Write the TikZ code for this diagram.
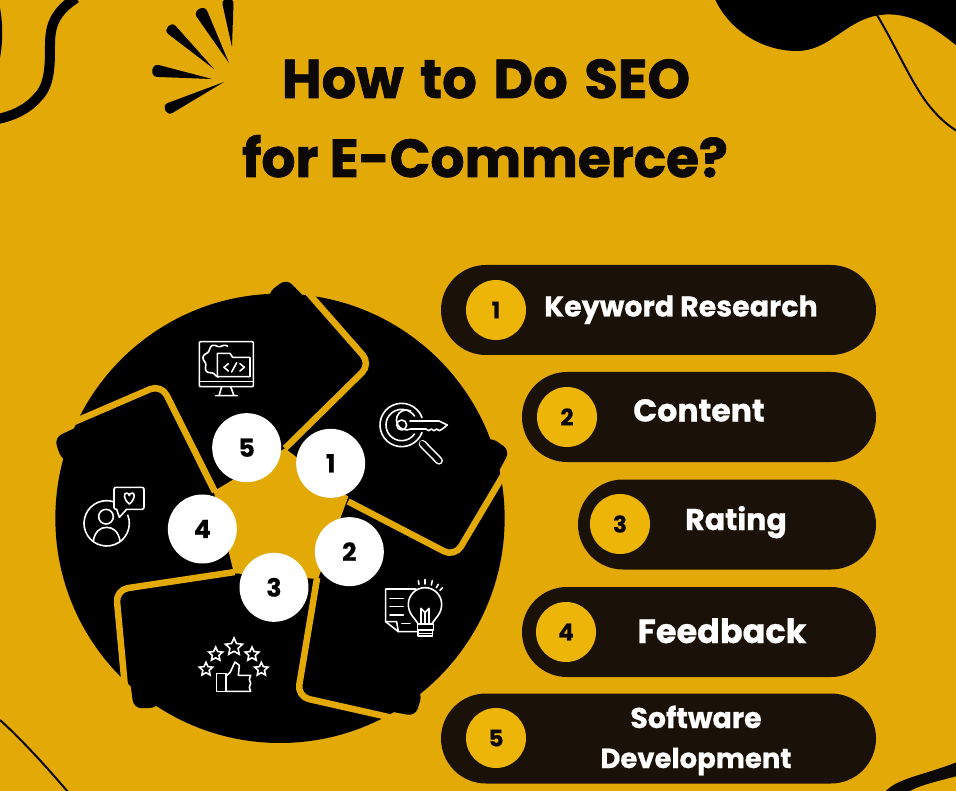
\documentclass[tikz,border=0pt]{standalone}
\usepackage{fontspec}
\setmainfont{Poppins}[BoldFeatures={FakeBold=0.7}]
\newfontfamily\headfont{Poppins}[BoldFeatures={FakeBold=1.3}]
\usetikzlibrary{shapes.geometric,shapes.misc,calc}
\definecolor{bgc}{HTML}{E3A906}
\definecolor{pillc}{HTML}{1A1208}
\definecolor{numc}{HTML}{EDB508}
\definecolor{inkc}{HTML}{0B0805}
\newcommand{\pillsize}[1]{\fontsize{#1}{#1}\selectfont\bfseries}
\tikzset{
  pillbox/.style={rounded rectangle,fill=pillc,minimum height=90pt,inner sep=0pt,outer sep=0pt},
  numdisc/.style={circle,fill=numc,minimum size=60pt,inner sep=0pt,text=inkc,font=\pillsize{23}},
  whitedisc/.style={circle,fill=white,minimum size=69pt,inner sep=0pt,text=black,font=\pillsize{25}},
  pilltext/.style={text=white,inner sep=0pt,anchor=base},
  titletext/.style={text=inkc,inner sep=0pt,anchor=base,font=\headfont\fontsize{54.5}{54.5}\selectfont\bfseries},
  icon/.style={draw=white,line width=1.6pt,line join=round,line cap=round},
  ministar/.style={star,star points=5,star point ratio=2.1,draw=white,line width=1.6pt,inner sep=0pt},
  goldedge/.style={draw=bgc,line width=6.5pt,rounded corners=12pt},
}
\newcommand{\burstmark}[5]{% x1 y1 x2 y2 halfwidth
  \coordinate (ba) at (#1,#2); \coordinate (bb) at (#3,#4);
  \coordinate (bp) at ($(ba)!#5pt!90:(bb)$);
  \coordinate (bq) at ($(ba)!-#5pt!90:(bb)$);
  \fill[black] (bp) .. controls ($(bp)!-#5*1.3pt!(bb)$) and ($(bq)!-#5*1.3pt!(bb)$) .. (bq)
     .. controls ($(bq)!.65!(bb)$) .. (bb) .. controls ($(bp)!.65!(bb)$) .. (bp) -- cycle;
}
\begin{document}
\begin{tikzpicture}[x=1pt,y=-1pt]
\useasboundingbox (0,0) rectangle (956,791);
\fill[bgc] (0,0) rectangle (956,791);

% corner decoration
\draw[black,line width=10pt] (76,-2) .. controls (55,12) and (50,25) .. (50,45)
   .. controls (50,65) and (50,85) .. (38,97) .. controls (27,110) and (12,116) .. (-2,119);
\fill[black] (0,8) .. controls (3,25) and (3,40) .. (0,58) -- cycle;
\fill[black] (715,-1) .. controls (728,28) and (760,51) .. (797,51)
   .. controls (830,51) and (845,20) .. (880,15)
   .. controls (910,11) and (935,28) .. (957,46) -- (957,-1) -- cycle;
\draw[inkc,line width=2pt] (877,15) .. controls (895,45) and (910,80) .. (927,103) .. controls (937,116) and (947,125) .. (957,131);
\draw[inkc,line width=2pt] (0,720) .. controls (20,738) and (45,765) .. (68,792);
\fill[inkc] (885,792) .. controls (897,778) and (925,775) .. (957,762) -- (957,776) .. controls (935,782) and (920,785) .. (908,792) -- cycle;

% burst
\burstmark{228}{4}{232}{47}{5.5}
\burstmark{202}{14}{229}{63}{6}
\burstmark{172}{30}{214}{69}{5.5}
\burstmark{158}{71}{212}{79}{6}
\burstmark{170}{108}{224}{82}{5.5}

% title
\node[titletext] (t1) at (486,98) {How\hspace{5pt} to\hspace{5pt} Do\hspace{5pt} SEO};
\node[titletext,font=\headfont\fontsize{53.5}{53.5}\selectfont\bfseries] (t2) at (485,177) {for E-Commerce?};

% wheel, in the coordinates of a 3x crop
\begin{scope}[shift={(40pt,-270pt)},x=0.33333pt,y=-0.33333pt]
  \fill[black] (720,745) circle[radius=674];
  \fill[bgc] (735,535) -- (925,680) -- (834,927) -- (582,910) -- (521,664) -- cycle;
  \foreach \i in {0,...,4}{
    \begin{scope}[rotate around={-72*\i:(720,745)}]
      \draw[goldedge] (735,535) -- (992,282) -- (804,68);
      \fill[black,rounded corners=8pt] (872,165) -- (740,26) -- (682,70) -- (700,140) -- cycle;
    \end{scope}
  }
  % icon: monitor
  \draw[icon,rounded corners=1pt] (478,215) rectangle (640,350);
  \draw[icon] (478,335) -- (640,335);
  \draw[icon] (545,350) -- (537,377) (572,350) -- (582,377) (527,377) -- (592,377);
  \draw[icon] plot[domain=60:265,samples=90,smooth] ({538+(46+4*sin(7*\x))*cos(\x)},{272-(46+4*sin(7*\x))*sin(\x)});
  \fill[black] (532,250) rectangle (630,320);
  \draw[icon] (532,320) -- (532,250) -- (570,250) -- (578,262) -- (630,262) -- (630,320) -- cycle;
  \draw[icon] (565,281) -- (552,292) -- (565,303) (600,281) -- (613,292) -- (600,303) (590,278) -- (575,306);
  % icon: key and lens
  \draw[icon] (1085,465) ++(20:65) arc[start angle=20,end angle=340,radius=65];
  \draw[icon] (1085,465) ++(35:47) arc[start angle=35,end angle=325,radius=47];
  \draw[icon] (1085,465) circle[radius=15];
  \draw[icon] (1110,453) -- (1197,453) -- (1222,465) -- (1207,477) -- (1198,482) -- (1190,477) -- (1182,482) -- (1174,477) -- (1166,482) -- (1158,477) -- (1112,477)
     arc[start angle=65,end angle=295,radius=30];
  \draw[white,line width=8pt,line cap=round] (1148,522) -- (1197,572);
  \draw[black,line width=4.8pt,line cap=round] (1146,520) -- (1197,572);
  % icon: page and bulb
  \draw[icon] (1128,957) -- (1037,957) -- (1037,1055) -- (1075,1085) -- (1130,1085);
  \draw[icon] (1037,1055) -- (1070,1055) -- (1075,1085);
  \draw[icon] (1050,985) -- (1090,985) (1050,1010) -- (1090,1010) (1050,1035) -- (1090,1035) (1085,1060) -- (1110,1060);
  \draw[icon] (1135,1062) .. controls (1125,1045) and (1105,1032) .. (1105,1003)
     arc[start angle=180,end angle=360,radius=50]
     .. controls (1205,1032) and (1185,1045) .. (1175,1062) -- cycle;
  \draw[icon] (1143,1062) -- (1143,1015) -- (1155,1028) -- (1167,1015) -- (1167,1062) (1155,1028) -- (1155,1062);
  \draw[icon] (1132,1062) rectangle (1180,1080) (1134,1080) -- (1134,1098) -- (1178,1098) -- (1178,1080) (1134,1090) -- (1178,1090);
  \draw[icon] (1135,932) -- (1137,943) (1155,928) -- (1155,942) (1177,932) -- (1174,945) (1195,943) -- (1189,953) (1208,953) -- (1200,961);
  % icon: rating
  \node[ministar,minimum size=18pt] (s1) at (582,1131) {};
  \node[ministar,minimum size=14.5pt] (s2) at (527,1153) {};
  \node[ministar,minimum size=14.5pt] (s3) at (636,1153) {};
  \node[ministar,minimum size=14pt] (s4) at (498,1198) {};
  \node[ministar,minimum size=14pt] (s5) at (664,1198) {};
  \draw[icon] (530,1210) rectangle (558,1264);
  \draw[icon] (558,1218) -- (570,1208) -- (585,1176) -- (598,1186) -- (595,1216) -- (632,1216)
     -- (628,1228) -- (632,1240) -- (628,1252) -- (632,1264) -- (558,1264);
  % icon: person and speech bubble
  \draw[icon] (200,760) ++(-21:68) arc[start angle=-21,end angle=289,radius=68];
  \draw[icon] (198,740) circle[radius=22];
  \draw[icon] (160,812) .. controls (165,785) and (180,772) .. (200,772) .. controls (220,772) and (235,785) .. (240,812);
  \draw[icon,rounded corners=2pt] (230,718) -- (222,718) -- (222,652) -- (312,652) -- (312,718) -- (260,718);
  \draw[icon] (230,718) -- (238,742) -- (260,718);
  \draw[icon] (268,702) .. controls (250,688) and (250,668) .. (260,669) .. controls (265,669) and (268,674) .. (268,677)
     .. controls (268,674) and (271,669) .. (276,669) .. controls (286,668) and (286,688) .. (268,702) -- cycle;
  % numbered discs
  \node[whitedisc] (w5) at (620,533) {5};
  \node[whitedisc] (w1) at (872,580) {1};
  \node[whitedisc] (w2) at (928,845) {2};
  \node[whitedisc] (w3) at (702,952) {3};
  \node[whitedisc] (w4) at (487,777) {4};
\end{scope}

% list
\node[pillbox,minimum width=435pt] (p1) at (658.5,310) {};
\node[pillbox,minimum width=354pt] (p2) at (699,417) {};
\node[pillbox,minimum width=298pt] (p3) at (727,524.5) {};
\node[pillbox,minimum width=354pt] (p4) at (699,632) {};
\node[pillbox,minimum width=435pt] (p5) at (658.5,738.5) {};
\node[numdisc] (n1) at (496,310) {1};
\node[numdisc] (n2) at (567,417) {2};
\node[numdisc] (n3) at (620,524) {3};
\node[numdisc] (n4) at (566,632) {4};
\node[numdisc] (n5) at (496,738) {5};
\node[pilltext,font=\pillsize{28.5}] (l1) at (681,316.5) {Keyword Research};
\node[pilltext,font=\pillsize{31.5}] (l2) at (699,421.5) {Content};
\node[pilltext,font=\pillsize{30}] (l3) at (736,530) {Rating};
\node[pilltext,font=\pillsize{33.5}] (l4) at (722,643) {Feedback};
\node[pilltext,font=\pillsize{28.5}] (l5) at (696,728) {Software};
\node[pilltext,font=\pillsize{27.5}] (l6) at (696,768) {Development};
\end{tikzpicture}
\end{document}
